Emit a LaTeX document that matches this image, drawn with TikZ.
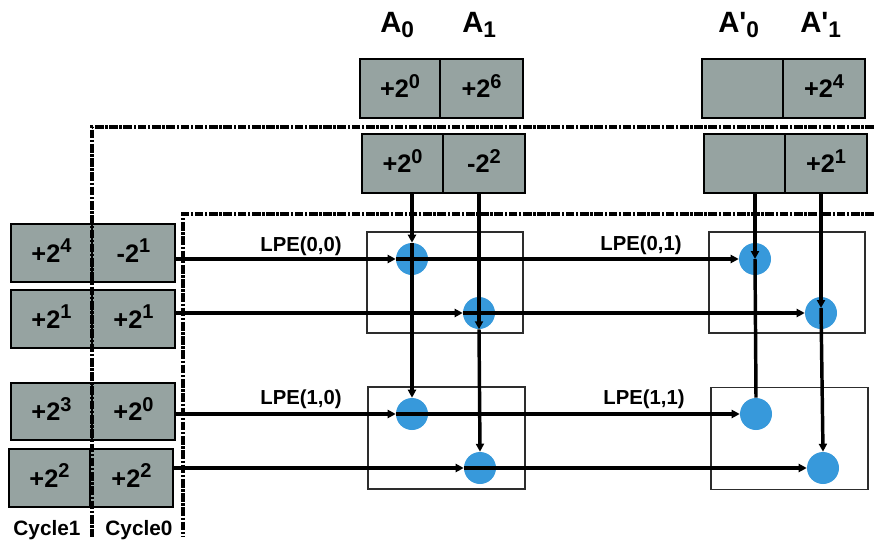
\documentclass[tikz,border=0pt]{standalone}
\usepackage{fontspec}
\setmainfont{Liberation Sans}[Ligatures=TeXOff]
\usetikzlibrary{arrows.meta,calc}
\definecolor{cellgray}{RGB}{150,163,161}
\definecolor{peblue}{RGB}{55,153,219}
\definecolor{pegray}{RGB}{45,45,45}
% power-of-two term: base with raised exponent
\newcommand\pw[2]{#1\raisebox{7pt}{\fontsize{15}{15}\selectfont #2}}
% operand label with lowered index
\newcommand\opnd[2]{#1\raisebox{-3.2pt}{\fontsize{17}{17}\selectfont #2}}
% two adjacent grey cells: name, x-left, x-mid, x-right, y-top, y-bottom, left text, right text
\newcommand\cellpair[8]{%
  \node[cellbox, minimum width={(#3-#2)*0.75pt}, minimum height={(#6-#5)*0.75pt}] (#1l) at ({(#2+#3)/2},{(#5+#6)/2}) {};
  \node[cellbox, minimum width={(#4-#3)*0.75pt}, minimum height={(#6-#5)*0.75pt}] (#1r) at ({(#3+#4)/2},{(#5+#6)/2}) {};
  \node[numtext] (#1lt) at ({(#2+#3)/2},{(#5+#6)/2+9}) {#7};
  \node[numtext] (#1rt) at ({(#3+#4)/2},{(#5+#6)/2+9}) {#8};
}
\begin{document}
\begin{tikzpicture}[x=0.75pt,y=-0.75pt,
  cellbox/.style={draw=black, fill=cellgray, line width=1.4pt, inner sep=0pt},
  numtext/.style={anchor=base, inner sep=0pt, font=\bfseries\fontsize{19}{19}\selectfont},
  hdr/.style={anchor=base west, inner sep=0pt, font=\bfseries\fontsize{22}{22}\selectfont},
  lbl/.style={anchor=base, inner sep=0pt, font=\bfseries\fontsize{15.2}{15}\selectfont},
  cyc/.style={anchor=base, inner sep=0pt, font=\bfseries\fontsize{15.6}{16}\selectfont},
  perect/.style={draw=pegray, line width=1pt, inner sep=0pt},
  pe/.style={circle, fill=peblue, minimum size=24pt, inner sep=0pt},
  conn/.style={line width=2.6pt, draw=black},
  tip/.style={-{Triangle[length=6pt,width=6pt]}},
  border/.style={line width=2.3pt, dash pattern=on 6.5pt off 1.2pt on 1.8pt off 1.2pt}]
\useasboundingbox (0,0) rectangle (874,542);

% column headers
\node[hdr] (hA0) at (380,33) {\opnd{A}{0}};
\node[hdr] (hA1) at (462,33) {\opnd{A}{1}};
\node[hdr] (hB0) at (718,33) {\opnd{A'}{0}};
\node[hdr] (hB1) at (800,33) {\opnd{A'}{1}};

% processing element frames
\node[perect, minimum width=117pt, minimum height=75.75pt] (pe00) at (445,282.5) {};
\node[perect, minimum width=117pt, minimum height=75.75pt] (pe01) at (787,282.5) {};
\node[perect, minimum width=117.75pt, minimum height=76.5pt] (pe10) at (446.5,438) {};
\node[perect, minimum width=117.75pt, minimum height=76.5pt] (pe11) at (789.5,438.5) {};

% processing elements
\node[pe] (c00a) at (412,259) {};
\node[pe] (c00b) at (479,313) {};
\node[pe] (c01a) at (755,259) {};
\node[pe] (c01b) at (821,313) {};
\node[pe] (c10a) at (412,414) {};
\node[pe] (c10b) at (480,468) {};
\node[pe] (c11a) at (756,414) {};
\node[pe] (c11b) at (823,468) {};

% operand cells
\cellpair{ta}{360}{440}{523}{59}{118}{\pw{+2}{0}}{\pw{+2}{6}}
\cellpair{tb}{702}{783}{865}{59}{118}{}{\pw{+2}{4}}
\cellpair{sa}{362}{443}{525}{134}{193}{\pw{+2}{0}}{\pw{-2}{2}}
\cellpair{sb}{704}{785}{867}{134}{193}{}{\pw{+2}{1}}
\cellpair{r1}{11}{92}{175}{224}{282}{\pw{+2}{4}}{\pw{-2}{1}}
\cellpair{r2}{11}{92}{175}{290}{348}{\pw{+2}{1}}{\pw{+2}{1}}
\cellpair{r3}{11}{92}{175}{383}{440}{\pw{+2}{3}}{\pw{+2}{0}}
\cellpair{r4}{9}{90}{173}{449}{507}{\pw{+2}{2}}{\pw{+2}{2}}

% connector end points on the cells
\coordinate (v0) at (412,193);
\coordinate (v1) at (479,193);
\coordinate (v2) at (755,193);
\coordinate (v3) at (821,193);
\coordinate (h1) at (175,259);
\coordinate (h2) at (175,313);
\coordinate (h3) at (175,414);
\coordinate (h4) at (173,468);
\coordinate (v3tip) at ($(c01b.center)+(0,-5)$);

% row operands flowing right
\draw[conn,tip] (h1) -- (c00a.west);
\draw[conn,tip] (c00a.west) -- (c01a.west);
\draw[conn,tip] (h2) -- (c00b.west);
\draw[conn,tip] (c00b.west) -- (c01b.west);
\draw[conn,tip] (h3) -- (c10a.west);
\draw[conn,tip] (c10a.west) -- (c11a.west);
\draw[conn,tip] (h4) -- (c10b.west);
\draw[conn,tip] (c10b.west) -- (c11b.west);

% column operands flowing down
\draw[conn,tip] (v0) -- (c00a.north);
\draw[conn,tip] (c00a.north) -- (c10a.north);
\draw[conn,tip] (v1) -- (c00b.south);
\draw[conn,tip] (c00b.south) -- (c10b.north);
\draw[conn,tip] (v2) -- (c01a.center);
\draw[conn] (c01a.center) -- (c11a.north);
\draw[conn,tip] (v3) -- (v3tip);
\draw[conn,tip] (v3tip) -- (c11b.north);

% link labels
\node[lbl] (l00) at (301,251) {LPE(0,0)};
\node[lbl] (l01) at (641,250) {LPE(0,1)};
\node[lbl] (l10) at (301,404) {LPE(1,0)};
\node[lbl] (l11) at (644,404) {LPE(1,1)};

% cycle boundaries
\draw[border] (874,127) -- (92,127) -- (92,537);
\draw[border] (874,214) -- (183,214) -- (183,537);
\node[cyc] (cy1) at (47,535) {Cycle1};
\node[cyc] (cy0) at (139,535) {Cycle0};
\end{tikzpicture}
\end{document}
